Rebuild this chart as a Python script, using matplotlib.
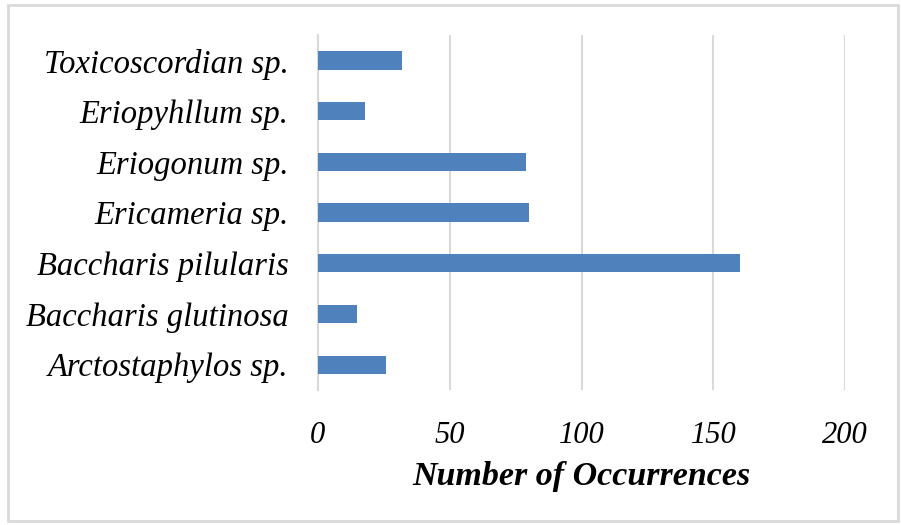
import matplotlib
matplotlib.use("Agg")
import matplotlib.pyplot as plt
from matplotlib.patches import Rectangle

species = ["Arctostaphylos sp.", "Baccharis glutinosa", "Baccharis pilularis",
           "Ericameria sp.", "Eriogonum sp.", "Eriopyhllum sp.", "Toxicoscordian sp."]
counts = [26, 15, 160, 80, 79, 18, 32]
xticks = [0, 50, 100, 150, 200]

plt.rcParams["font.family"] = ["Liberation Serif", "DejaVu Serif"]

fig = plt.figure(figsize=(9.03, 5.25), dpi=100)
ax = fig.add_axes([0.352, 0.257, 0.584, 0.676])

ax.barh(range(len(species)), counts, height=0.36, color="#4F81BD", zorder=3)
ax.set_xlim(0, 200)
ax.set_ylim(-0.5, len(species) - 0.5)
ax.set_xticks(xticks)
ax.set_xticklabels([str(t) for t in xticks], fontsize=22, style="italic")
ax.set_yticks(range(len(species)))
ax.set_yticklabels(species, fontsize=23.5, style="italic")
ax.tick_params(length=0)
ax.tick_params(axis="x", pad=22)
ax.tick_params(axis="y", pad=21)
ax.xaxis.grid(True, color="#d9d9d9", linewidth=1.5, zorder=0)
for s in ["top", "right", "bottom"]:
    ax.spines[s].set_visible(False)
ax.spines["left"].set_color("#d9d9d9")
ax.spines["left"].set_linewidth(1.5)
ax.set_xlabel("Number of Occurrences", fontsize=24.5, style="italic",
              fontweight="bold", labelpad=8)

fig.patches.append(Rectangle((0.009, 0.008), 0.985, 0.982, transform=fig.transFigure,
                             fill=False, edgecolor="#d9d9d9", linewidth=2))

fig.savefig("out.png", dpi=100)
